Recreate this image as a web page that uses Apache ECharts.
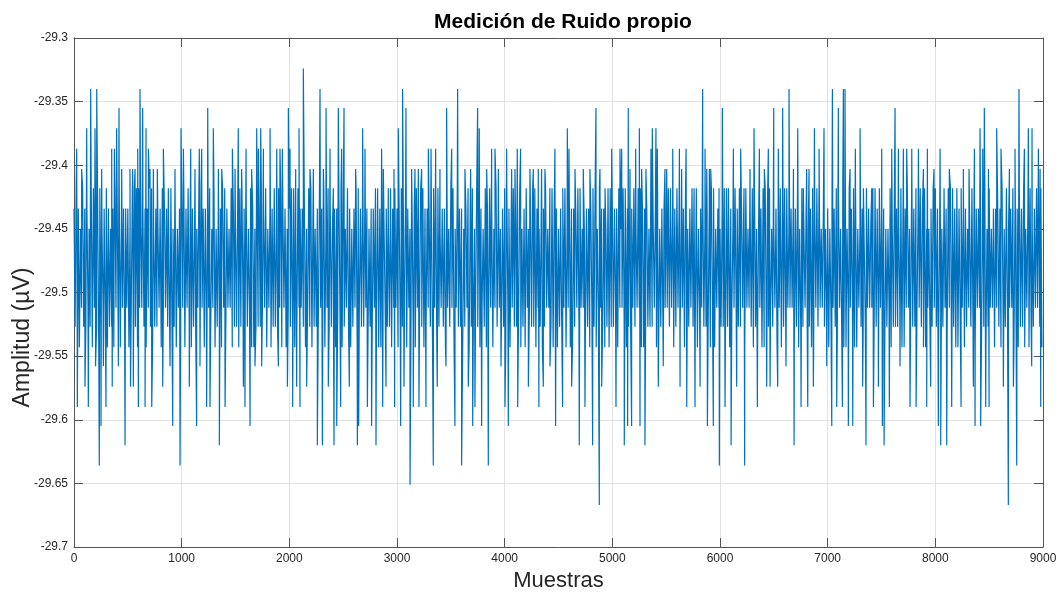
<!DOCTYPE html>
<html>
<head>
<meta charset="utf-8">
<script src="https://cdn.jsdelivr.net/npm/echarts@6/dist/echarts.min.js"></script>
<style>
html,body{margin:0;padding:0;background:#fff;}
#chart{width:1059px;height:594px;}
</style>
</head>
<body>
<div id="chart"></div>
<script>
// ---- data ----
const titulo = 'Medición de Ruido propio';
const ejeX = 'Muestras';
const ejeY = 'Amplitud (µV)';
const pasoBase = 10; // samples between consecutive base readings

// base band readings (µV), one every 10 samples
const banda = [
-29.434,-29.527,-29.418,-29.543,-29.434,-29.543,-29.45,-29.512,-29.418,-29.527,-29.434,-29.527,-29.434,-29.512,-29.45,-29.527,-29.418,-29.543,-29.418,-29.512,
-29.434,-29.527,-29.434,-29.543,-29.418,-29.527,-29.45,-29.512,-29.434,-29.512,-29.418,-29.543,-29.434,-29.527,-29.45,-29.527,-29.434,-29.543,-29.418,-29.512,
-29.418,-29.527,-29.418,-29.543,-29.45,-29.512,-29.434,-29.527,-29.434,-29.512,-29.434,-29.543,-29.45,-29.527,-29.434,-29.527,-29.418,-29.527,-29.418,-29.543,
-29.418,-29.512,-29.45,-29.512,-29.434,-29.527,-29.434,-29.543,-29.434,-29.512,-29.418,-29.527,-29.418,-29.543,-29.45,-29.527,-29.434,-29.527,-29.45,-29.512,
-29.434,-29.543,-29.418,-29.512,-29.434,-29.512,-29.434,-29.527,-29.418,-29.543,-29.418,-29.527,-29.45,-29.527,-29.434,-29.543,-29.45,-29.512,-29.434,-29.527,
-29.418,-29.512,-29.418,-29.543,-29.434,-29.512,-29.418,-29.527,-29.434,-29.543,-29.434,-29.527,-29.45,-29.527,-29.45,-29.512,-29.418,-29.543,-29.418,-29.512,
-29.434,-29.543,-29.434,-29.527,-29.434,-29.512,-29.418,-29.527,-29.45,-29.512,-29.418,-29.543,-29.45,-29.527,-29.434,-29.527,-29.434,-29.543,-29.418,-29.512,
-29.418,-29.527,-29.434,-29.512,-29.45,-29.512,-29.418,-29.543,-29.434,-29.527,-29.45,-29.527,-29.434,-29.543,-29.418,-29.527,-29.418,-29.512,-29.434,-29.512,
-29.434,-29.527,-29.45,-29.512,-29.418,-29.543,-29.434,-29.543,-29.45,-29.527,-29.418,-29.527,-29.434,-29.527,-29.418,-29.512,-29.434,-29.512,-29.418,-29.543,
-29.45,-29.512,-29.434,-29.543,-29.434,-29.527,-29.418,-29.527,-29.45,-29.527,-29.418,-29.512,-29.418,-29.543,-29.434,-29.512,-29.434,-29.543,-29.45,-29.512,
-29.434,-29.527,-29.418,-29.527,-29.418,-29.543,-29.45,-29.527,-29.418,-29.512,-29.434,-29.512,-29.434,-29.527,-29.434,-29.543,-29.45,-29.512,-29.418,-29.527,
-29.418,-29.543,-29.434,-29.527,-29.45,-29.527,-29.434,-29.512,-29.418,-29.512,-29.434,-29.543,-29.418,-29.543,-29.45,-29.512,-29.418,-29.527,-29.434,-29.527,
-29.45,-29.527,-29.434,-29.543,-29.434,-29.512,-29.418,-29.512,-29.418,-29.543,-29.434,-29.527,-29.45,-29.512,-29.418,-29.527,-29.434,-29.543,-29.45,-29.527,
-29.434,-29.512,-29.418,-29.543,-29.418,-29.512,-29.434,-29.527,-29.418,-29.527,-29.45,-29.512,-29.434,-29.543,-29.45,-29.527,-29.434,-29.527,-29.434,-29.512,
-29.418,-29.512,-29.418,-29.543,-29.434,-29.543,-29.418,-29.527,-29.45,-29.512,-29.434,-29.527,-29.45,-29.527,-29.418,-29.543,-29.434,-29.512,-29.418,-29.512,
-29.434,-29.543,-29.434,-29.527,-29.418,-29.527,-29.45,-29.512,-29.418,-29.543,-29.434,-29.512,-29.45,-29.527,-29.434,-29.527,-29.434,-29.543,-29.418,-29.512,
-29.45,-29.512,-29.418,-29.527,-29.418,-29.543,-29.434,-29.527,-29.434,-29.512,-29.45,-29.527,-29.434,-29.543,-29.418,-29.512,-29.418,-29.543,-29.418,-29.527,
-29.45,-29.512,-29.434,-29.527,-29.434,-29.543,-29.434,-29.512,-29.45,-29.527,-29.418,-29.512,-29.418,-29.543,-29.45,-29.512,-29.418,-29.527,-29.434,-29.527,
-29.434,-29.543,-29.45,-29.527,-29.434,-29.512,-29.418,-29.543,-29.434,-29.527,-29.418,-29.512,-29.45,-29.512,-29.418,-29.527,-29.434,-29.543,-29.434,-29.512,
-29.45,-29.527,-29.418,-29.543,-29.434,-29.527,-29.418,-29.512,-29.434,-29.543,-29.45,-29.512,-29.418,-29.527,-29.434,-29.512,-29.45,-29.527,-29.434,-29.527,
-29.418,-29.543,-29.418,-29.512,-29.434,-29.543,-29.45,-29.512,-29.418,-29.527,-29.434,-29.527,-29.434,-29.512,-29.418,-29.543,-29.45,-29.527,-29.434,-29.543,
-29.418,-29.512,-29.45,-29.512,-29.434,-29.527,-29.418,-29.527,-29.418,-29.543,-29.434,-29.512,-29.45,-29.527,-29.434,-29.543,-29.434,-29.527,-29.418,-29.512,
-29.45,-29.512,-29.418,-29.527,-29.418,-29.543,-29.434,-29.512,-29.434,-29.543,-29.45,-29.527,-29.434,-29.527,-29.418,-29.512,-29.418,-29.543,-29.45,-29.512,
-29.418,-29.543,-29.434,-29.543,-29.434,-29.527,-29.434,-29.512,-29.418,-29.527,-29.418,-29.512,-29.45,-29.512,-29.45,-29.527,-29.434,-29.527,-29.434,-29.543,
-29.434,-29.512,-29.418,-29.527,-29.418,-29.543,-29.45,-29.512,-29.418,-29.512,-29.434,-29.527,-29.434,-29.543,-29.45,-29.527,-29.418,-29.543,-29.418,-29.527,
-29.434,-29.527,-29.434,-29.512,-29.434,-29.543,-29.418,-29.512,-29.45,-29.512,-29.418,-29.527,-29.418,-29.543,-29.434,-29.527,-29.45,-29.527,-29.434,-29.512,
-29.418,-29.527,-29.45,-29.512,-29.418,-29.512,-29.418,-29.543,-29.434,-29.543,-29.434,-29.512,-29.434,-29.527,-29.45,-29.527,-29.418,-29.527,-29.45,-29.512,
-29.434,-29.543,-29.418,-29.543,-29.45,-29.527,-29.434,-29.527,-29.434,-29.512,-29.45,-29.512,-29.418,-29.527,-29.418,-29.512,-29.434,-29.543,-29.434,-29.527,
-29.418,-29.512,-29.434,-29.527,-29.45,-29.512,-29.434,-29.543,-29.418,-29.543,-29.45,-29.527,-29.434,-29.512,-29.418,-29.527,-29.434,-29.527,-29.418,-29.543,
-29.45,-29.512,-29.434,-29.512,-29.418,-29.527,-29.45,-29.527,-29.434,-29.527,-29.434,-29.543,-29.418,-29.512,-29.418,-29.543,-29.45,-29.512,-29.434,-29.512,
-29.45,-29.527,-29.434,-29.527,-29.418,-29.543,-29.418,-29.527,-29.434,-29.543,-29.434,-29.512,-29.45,-29.512,-29.418,-29.512,-29.434,-29.527,-29.418,-29.527,
-29.434,-29.512,-29.434,-29.543,-29.418,-29.512,-29.45,-29.512,-29.434,-29.527,-29.418,-29.543,-29.418,-29.527,-29.45,-29.527,-29.434,-29.512,-29.434,-29.543,
-29.418,-29.543,-29.418,-29.527,-29.434,-29.527,-29.418,-29.512,-29.45,-29.527,-29.45,-29.512,-29.434,-29.543,-29.434,-29.512,-29.418,-29.543,-29.434,-29.527,
-29.418,-29.527,-29.418,-29.512,-29.45,-29.512,-29.434,-29.512,-29.434,-29.543,-29.434,-29.527,-29.418,-29.543,-29.45,-29.527,-29.418,-29.527,-29.418,-29.512,
-29.434,-29.527,-29.45,-29.527,-29.434,-29.543,-29.418,-29.543,-29.434,-29.512,-29.418,-29.527,-29.418,-29.512,-29.45,-29.512,-29.434,-29.527,-29.45,-29.527,
-29.434,-29.543,-29.45,-29.512,-29.434,-29.512,-29.434,-29.527,-29.418,-29.527,-29.418,-29.512,-29.45,-29.527,-29.418,-29.543,-29.434,-29.543,-29.45,-29.512,
-29.418,-29.512,-29.434,-29.512,-29.418,-29.543,-29.434,-29.543,-29.45,-29.512,-29.45,-29.527,-29.434,-29.527,-29.418,-29.527,-29.418,-29.512,-29.434,-29.512,
-29.45,-29.512,-29.418,-29.543,-29.418,-29.527,-29.434,-29.527,-29.418,-29.512,-29.434,-29.512,-29.434,-29.543,-29.45,-29.527,-29.45,-29.512,-29.418,-29.543,
-29.45,-29.527,-29.418,-29.527,-29.434,-29.527,-29.45,-29.512,-29.418,-29.543,-29.434,-29.543,-29.434,-29.512,-29.418,-29.512,-29.45,-29.527,-29.418,-29.527,
-29.434,-29.527,-29.418,-29.512,-29.434,-29.512,-29.418,-29.527,-29.434,-29.543,-29.418,-29.543,-29.45,-29.512,-29.45,-29.527,-29.434,-29.527,-29.418,-29.512,
-29.418,-29.527,-29.434,-29.543,-29.45,-29.512,-29.45,-29.527,-29.434,-29.512,-29.434,-29.527,-29.418,-29.512,-29.418,-29.543,-29.418,-29.527,-29.434,-29.543,
-29.418,-29.543,-29.434,-29.512,-29.418,-29.512,-29.434,-29.543,-29.434,-29.527,-29.45,-29.512,-29.45,-29.527,-29.418,-29.527,-29.418,-29.543,-29.434,-29.512,
-29.434,-29.512,-29.434,-29.527,-29.418,-29.527,-29.418,-29.543,-29.45,-29.527,-29.418,-29.512,-29.45,-29.512,-29.434,-29.543,-29.434,-29.512,-29.434,-29.527,
-29.434,-29.543,-29.418,-29.527,-29.45,-29.527,-29.418,-29.512,-29.45,-29.512,-29.434,-29.512,-29.418,-29.543,-29.434,-29.527,-29.434,-29.543,-29.418,-29.527,
-29.434,-29.527,-29.418,-29.543,-29.45,-29.512,-29.434,-29.543,-29.418,-29.527,-29.45,-29.527,-29.434,-29.512,-29.418,-29.512,-29.434,-29.527,-29.418,-29.543
];

// upward spikes: [sample, µV]
const picosSup = [
[25,-29.387],[71,-29.403],[118,-29.371],[155,-29.340],[195,-29.371],[211,-29.340],[257,-29.403],[350,-29.387],[375,-29.387],[396,-29.371],[418,-29.355],[443,-29.403],[520,-29.403],[545,-29.403],[567,-29.403],[592,-29.387],[613,-29.340],[638,-29.355],[669,-29.371],[691,-29.387],[706,-29.403],[737,-29.403],[774,-29.403],[830,-29.387],[876,-29.418],[907,-29.418],[938,-29.403],[994,-29.371],[1016,-29.387],[1084,-29.387],[1124,-29.403],[1164,-29.387],[1186,-29.387],[1242,-29.355],[1294,-29.371],[1341,-29.403],[1372,-29.403],[1471,-29.387],[1496,-29.403],[1526,-29.371],[1557,-29.403],[1598,-29.387],[1650,-29.403],[1697,-29.371],[1712,-29.387],[1734,-29.371],[1759,-29.387],[1821,-29.371],[1883,-29.387],[1913,-29.387],[1935,-29.387],[1991,-29.355],[2006,-29.387],[2059,-29.403],[2090,-29.371],[2130,-29.324],[2192,-29.403],[2223,-29.403],[2285,-29.340],[2316,-29.403],[2341,-29.355],[2378,-29.387],[2409,-29.418],[2455,-29.355],[2486,-29.387],[2508,-29.355],[2548,-29.418],[2616,-29.403],[2641,-29.418],[2681,-29.371],[2703,-29.387],
[2857,-29.387],[2873,-29.403],[2919,-29.418],[2972,-29.403],[3012,-29.371],[3052,-29.340],[3083,-29.355],[3136,-29.403],[3167,-29.403],[3198,-29.403],[3229,-29.403],[3291,-29.387],[3316,-29.387],[3359,-29.387],[3399,-29.403],[3461,-29.355],[3508,-29.387],[3563,-29.340],[3631,-29.403],[3684,-29.403],[3749,-29.355],[3764,-29.371],[3833,-29.403],[3879,-29.387],[3910,-29.387],[3941,-29.403],[4018,-29.387],[4065,-29.403],[4096,-29.403],[4117,-29.387],[4148,-29.387],[4235,-29.403],[4266,-29.403],[4312,-29.403],[4343,-29.403],[4374,-29.403],[4467,-29.387],[4582,-29.371],[4597,-29.387],[4653,-29.403],[4730,-29.403],[4792,-29.403],[4848,-29.355],[4885,-29.403],[4932,-29.418],[4994,-29.387],[5071,-29.387],[5087,-29.387],[5148,-29.355],[5164,-29.403],[5217,-29.387],[5251,-29.371],[5272,-29.403],[5312,-29.403],[5359,-29.387],[5371,-29.371],[5405,-29.371],[5418,-29.387],[5489,-29.403],[5505,-29.403],
[5561,-29.387],[5623,-29.387],[5644,-29.403],[5685,-29.387],[5759,-29.418],[5784,-29.418],[5839,-29.340],[5861,-29.387],[5877,-29.403],[5901,-29.403],[5914,-29.403],[5991,-29.418],[6022,-29.355],[6078,-29.418],[6124,-29.387],[6192,-29.387],[6223,-29.418],[6279,-29.403],[6316,-29.371],[6366,-29.387],[6412,-29.403],[6449,-29.387],[6499,-29.355],[6542,-29.387],[6582,-29.355],[6641,-29.340],[6682,-29.403],[6722,-29.371],[6774,-29.418],[6805,-29.403],[6827,-29.403],[6877,-29.371],[6920,-29.387],[6966,-29.371],[7044,-29.340],[7099,-29.355],[7146,-29.340],[7161,-29.340],[7208,-29.403],[7257,-29.387],[7301,-29.371],[7332,-29.418],[7409,-29.418],[7446,-29.418],[7502,-29.387],[7595,-29.387],[7626,-29.355],[7657,-29.387],[7703,-29.387],[7734,-29.387],[7781,-29.387],[7843,-29.387],[7889,-29.403],[7926,-29.387],[7988,-29.403],[8044,-29.387],[8081,-29.418],[8130,-29.403],[8168,-29.418],[8260,-29.403],[8313,-29.403],[8363,-29.387],[8415,-29.371],[8440,-29.387],[8455,-29.355],[8493,-29.403],[8570,-29.371],[8610,-29.387],[8688,-29.403],[8740,-29.387],[8777,-29.340],[8827,-29.387],[8864,-29.371],[8898,-29.371],[8957,-29.387],[8973,-29.403]
];

// downward spikes: [sample, µV]
const picosInf = [
[31,-29.590],[102,-29.574],[133,-29.590],[200,-29.558],[235,-29.636],[251,-29.605],[273,-29.558],[297,-29.590],[355,-29.574],[412,-29.558],[474,-29.620],[525,-29.574],[551,-29.574],[598,-29.590],[660,-29.590],[722,-29.590],[824,-29.574],[892,-29.558],[917,-29.605],[985,-29.636],[1071,-29.574],[1139,-29.605],[1170,-29.558],[1232,-29.590],[1263,-29.590],[1350,-29.620],[1403,-29.590],[1573,-29.574],[1588,-29.590],[1635,-29.605],[1681,-29.558],[1743,-29.558],[1898,-29.558],[1982,-29.574],[2031,-29.590],[2068,-29.574],[2099,-29.590],[2161,-29.574],[2260,-29.620],[2307,-29.620],[2362,-29.574],[2415,-29.620],[2440,-29.605],[2477,-29.590],[2557,-29.574],[2632,-29.620],[2644,-29.605],[2725,-29.590],
[2764,-29.605],[2805,-29.620],[2867,-29.590],[2898,-29.574],[2978,-29.590],[3034,-29.605],[3065,-29.574],[3121,-29.651],[3151,-29.590],[3204,-29.590],[3269,-29.590],[3337,-29.636],[3374,-29.574],[3455,-29.558],[3538,-29.605],[3600,-29.636],[3662,-29.574],[3703,-29.605],[3724,-29.590],[3786,-29.605],[3848,-29.636],[3966,-29.558],[4003,-29.590],[4034,-29.605],[4121,-29.590],[4220,-29.574],[4318,-29.590],[4359,-29.574],[4421,-29.558],[4473,-29.605],[4538,-29.590],[4622,-29.574],[4693,-29.620],[4746,-29.590],[4817,-29.620],[4879,-29.667],[4901,-29.574],[5034,-29.590],[5111,-29.620],[5142,-29.605],[5179,-29.605],[5257,-29.605],[5303,-29.620],[5427,-29.574],[5473,-29.558],
[5629,-29.574],[5691,-29.590],[5768,-29.590],[5815,-29.574],[5883,-29.605],[5938,-29.605],[5994,-29.636],[6047,-29.590],[6103,-29.620],[6155,-29.574],[6229,-29.636],[6347,-29.590],[6434,-29.574],[6465,-29.574],[6536,-29.574],[6613,-29.558],[6688,-29.620],[6753,-29.590],[6815,-29.590],[6867,-29.574],[6991,-29.558],[7038,-29.605],[7084,-29.590],[7137,-29.590],[7192,-29.605],[7233,-29.605],[7325,-29.574],[7356,-29.620],[7425,-29.590],[7471,-29.574],[7508,-29.605],[7524,-29.620],[7573,-29.590],[7672,-29.558],[7765,-29.590],[7821,-29.590],[7920,-29.590],[7957,-29.574],[8028,-29.605],[8050,-29.620],[8106,-29.620],[8152,-29.590],[8239,-29.590],[8353,-29.574],[8369,-29.605],[8421,-29.605],[8468,-29.590],[8499,-29.590],[8632,-29.574],[8678,-29.667],[8725,-29.574],[8756,-29.636],[8895,-29.558],[8979,-29.590]
];

const xTicks = [0,1000,2000,3000,4000,5000,6000,7000,8000,9000];
const yTicks = [-29.7,-29.65,-29.6,-29.55,-29.5,-29.45,-29.4,-29.35,-29.3];

// ---- build series ----
const serie = banda.map((v, i) => [i * pasoBase, v])
  .concat(picosSup, picosInf)
  .filter(p => p[0] <= xTicks[xTicks.length - 1])
  .sort((a, b) => a[0] - b[0]);

const chart = echarts.init(document.getElementById('chart'), null, {renderer: 'canvas'});
const axisCol = '#555555';
const txtCol = '#262626';
const gridCol = '#e2e2e2';
const fmtY = v => String(parseFloat(v.toFixed(2)));
const fmtX = v => String(Math.round(v));
const font = 'Liberation Sans, Arial, Helvetica, sans-serif';

const xBase = {
  type: 'value', min: xTicks[0], max: xTicks[xTicks.length - 1], interval: 1000,
  axisLine: {show: true, onZero: false, lineStyle: {color: axisCol, width: 1}},
  axisTick: {show: true, inside: true, length: 9, lineStyle: {color: axisCol}},
};
const yBase = {
  type: 'value', min: yTicks[0], max: yTicks[yTicks.length - 1], interval: 0.05,
  axisLine: {show: true, onZero: false, lineStyle: {color: axisCol, width: 1}},
  axisTick: {show: true, inside: true, length: 9, lineStyle: {color: axisCol}},
};

chart.setOption({
  animation: false,
  backgroundColor: '#ffffff',
  title: {
    text: titulo, left: 558, top: 7, textAlign: 'center',
    textStyle: {fontFamily: font, fontWeight: 'bold', fontSize: 21, color: '#000'}
  },
  grid: {left: 74, right: 16, top: 38, bottom: 47, containLabel: false, outerBoundsMode: 'none'},
  xAxis: [
    Object.assign({}, xBase, {
      position: 'bottom',
      name: ejeX, nameLocation: 'middle', nameGap: 23, nameMoveOverlap: false,
      nameTextStyle: {fontFamily: font, fontSize: 22, color: txtCol},
      axisLabel: {show: true, margin: 6, fontSize: 12, color: txtCol, fontFamily: font, formatter: fmtX},
      splitLine: {show: true, lineStyle: {color: gridCol, width: 1}}
    }),
    Object.assign({}, xBase, {
      position: 'top',
      axisLabel: {show: false}, splitLine: {show: false}
    })
  ],
  yAxis: [
    Object.assign({}, yBase, {
      position: 'left',
      name: ejeY, nameLocation: 'middle', nameGap: 40, nameRotate: 90, nameMoveOverlap: false,
      nameTextStyle: {fontFamily: font, fontSize: 23, color: txtCol, padding: [0, 90, 0, 0]},
      axisLabel: {show: true, margin: 6, fontSize: 12, color: txtCol, fontFamily: font, formatter: fmtY},
      splitLine: {show: true, lineStyle: {color: gridCol, width: 1}}
    }),
    Object.assign({}, yBase, {
      position: 'right',
      axisLabel: {show: false}, splitLine: {show: false}
    })
  ],
  series: [{
    type: 'line',
    data: serie,
    xAxisIndex: 0, yAxisIndex: 0,
    showSymbol: false, symbol: 'none',
    sampling: null,
    lineStyle: {color: '#0072BD', width: 1.2},
    z: 1
  }]
});
</script>
</body>
</html>
